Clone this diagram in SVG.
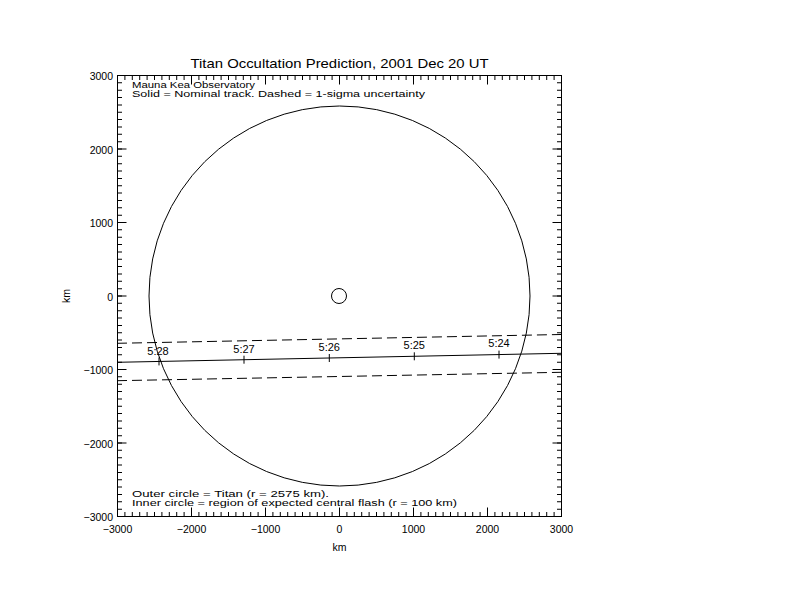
<svg xmlns="http://www.w3.org/2000/svg" width="792" height="612" viewBox="0 0 792 612">
<style>
text{font-family:"Liberation Sans",Arial,sans-serif;fill:#000}
.t{font-size:13px}
.s{font-size:8.5px}
.n{font-size:10.5px}
.lab{font-size:11px;text-anchor:middle}
.ax{fill:none;stroke:#000;stroke-width:1}
.mn{stroke:#000;fill:none}
.trk{fill:none;stroke:#000;stroke-width:1}
.dash{stroke-dasharray:10 5}
</style>
<rect width="792" height="612" fill="#fff"/>
<text class="t" x="339.5" y="68" text-anchor="middle" textLength="298" lengthAdjust="spacingAndGlyphs">Titan Occultation Prediction, 2001 Dec 20 UT</text>
<g id="frame">
<rect class="ax" x="117.5" y="75.5" width="444" height="441"/>
<line class="mn" x1="117" y1="514.25" x2="562" y2="514.25" stroke-width="4.5" stroke-dasharray="1 6.4"/>
<line class="mn" x1="117" y1="512" x2="562" y2="512" stroke-width="9" stroke-dasharray="1 73"/>
<line class="mn" x1="117" y1="77.75" x2="562" y2="77.75" stroke-width="4.5" stroke-dasharray="1 6.4"/>
<line class="mn" x1="117" y1="80" x2="562" y2="80" stroke-width="9" stroke-dasharray="1 73"/>
<line class="mn" x1="119.75" y1="75" x2="119.75" y2="517" stroke-width="4.5" stroke-dasharray="1 6.35"/>
<line class="mn" x1="122" y1="75" x2="122" y2="517" stroke-width="9" stroke-dasharray="1 72.5"/>
<line class="mn" x1="559.25" y1="75" x2="559.25" y2="517" stroke-width="4.5" stroke-dasharray="1 6.35"/>
<line class="mn" x1="557" y1="75" x2="557" y2="517" stroke-width="9" stroke-dasharray="1 72.5"/>
</g>
<g id="xlabels" class="n" text-anchor="middle">
<text x="117.5" y="533">−3000</text>
<text x="191.5" y="533">−2000</text>
<text x="265.5" y="533">−1000</text>
<text x="339.5" y="533">0</text>
<text x="413.5" y="533">1000</text>
<text x="487.5" y="533">2000</text>
<text x="561.5" y="533">3000</text>
<text x="339.5" y="551">km</text>
</g>
<g id="ylabels" class="n" text-anchor="end">
<text x="113" y="80">3000</text>
<text x="113" y="153.5">2000</text>
<text x="113" y="227">1000</text>
<text x="113" y="300.5">0</text>
<text x="113" y="374">−1000</text>
<text x="113" y="447.5">−2000</text>
<text x="113" y="521">−3000</text>
<text x="70" y="296" text-anchor="middle" transform="rotate(-90 70 296)">km</text>
</g>
<g id="titan">
<ellipse class="trk" cx="339.5" cy="296" rx="190.5" ry="190"/>
</g>
<g id="flash">
<circle class="trk" cx="339" cy="296" r="7.5" stroke-width="1.3"/>
</g>
<g id="tracks">
<line class="trk" x1="117" y1="362.3" x2="561" y2="353.3"/>
<line class="trk dash" x1="117" y1="343.3" x2="561" y2="334.5"/>
<line class="trk dash" x1="117" y1="380.7" x2="561" y2="372.3"/>
<path class="trk" d="M159,357.4V365.4M244,355.7V363.7M329.3,354V362M414.3,352.3V360.3M499,350.6V358.6"/>
</g>
<g id="times" class="lab">
<text x="158" y="354.5">5:28</text>
<text x="244" y="352.5">5:27</text>
<text x="329.3" y="350.5">5:26</text>
<text x="414.3" y="349">5:25</text>
<text x="499" y="347">5:24</text>
</g>
<g id="notes" class="s">
<text x="132" y="87.5" textLength="123" lengthAdjust="spacingAndGlyphs">Mauna Kea Observatory</text>
<text x="132" y="96.5" textLength="293" lengthAdjust="spacingAndGlyphs">Solid = Nominal track.  Dashed = 1-sigma uncertainty</text>
<text x="132" y="496.5" textLength="197" lengthAdjust="spacingAndGlyphs">Outer circle = Titan (r = 2575 km).</text>
<text x="132" y="505.5" textLength="325" lengthAdjust="spacingAndGlyphs">Inner circle = region of expected central flash (r = 100 km)</text>
</g>
</svg>
